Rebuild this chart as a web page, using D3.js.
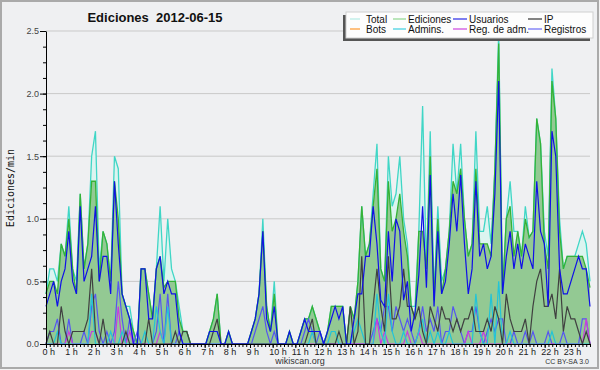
<!DOCTYPE html>
<html>
<head>
<meta charset="utf-8">
<script src="https://cdn.jsdelivr.net/npm/d3@7"></script>
<style>
body { margin: 0; background: #f2f2f2; }
svg { display: block; font-family: "Liberation Sans", Arial, sans-serif; }
</style>
</head>
<body>
<svg id="chart" width="600" height="370"></svg>
<script>
// edits per minute, one value every 10 minutes (144 points)
const total = [
  0.4,0.6,0.6,0.5,0.8,0.7, 1.1,0.6,0.5,1.2,0.6,0.8, 1.5,1.7,0.6,0.9,0.8,0.5, 1.5,1.4,0.4,0.3,0.3,0.1,
  0,0.6,0.6,0.4,0.2,0.6, 1.1,0.5,1.0,0.6,0.5,0.3, 0.1,0.1,0,0,0,0, 0,0.1,0.2,0.4,0,0,
  0.1,0,0,0,0,0, 0.1,0.2,0.4,1.0,0.3,0.1, 0.5,0,0,0,0.1,0, 0,0.1,0.2,0.2,0.3,0.2,
  0.1,0,0.1,0.3,0.3,0.3, 0.3,0,0.3,0.2,0.5,1.1, 0.7,0.8,1.2,1.6,0.6,0.5, 1.5,1.1,1.2,1.5,1.0,0.8,
  0.3,0.3,0.9,1.9,0.6,1.7, 0.4,1.1,0.5,0.6,0.9,1.6, 1.2,1.6,1.0,0.7,0.8,1.7, 0.9,0.9,1.1,0.8,1.4,2.5,
  0.4,1.0,1.3,0.9,0.9,0.7, 1.1,0.85,0.9,1.8,1.6,0.9, 0.7,2.2,1.8,1.0,0.6,0.7, 0.7,0.7,0.8,0.9,0.8,0.5
];
const ediciones = [
  0.4,0.5,0.5,0.4,0.8,0.7, 1.0,0.6,0.4,1.2,0.6,0.8, 1.3,1.3,0.5,0.9,0.8,0.5, 1.3,1.0,0.4,0.3,0.2,0.1,
  0,0.6,0.6,0.4,0.2,0.6, 0.7,0.45,0.5,0.5,0.5,0.2, 0.1,0.1,0,0,0,0, 0,0.1,0.2,0.4,0,0,
  0.1,0,0,0,0,0, 0.1,0.2,0.4,0.9,0.3,0.1, 0.4,0,0,0,0.1,0, 0,0.1,0.2,0.2,0.3,0.2,
  0.1,0,0.1,0.3,0.3,0.3, 0.3,0,0.3,0.2,0.5,1.1, 0.7,0.8,1.1,1.4,0.6,0.5, 1.3,0.9,1.0,1.2,0.9,0.7,
  0.3,0.2,0.9,0.9,0.6,1.5, 0.35,1.0,0.4,0.6,0.9,1.3, 1.2,1.4,1.0,0.7,0.8,1.4, 0.8,0.8,0.8,0.7,1.4,2.4,
  0.4,1.0,1.1,0.7,0.9,0.7, 1.0,0.85,0.9,1.8,1.6,0.8, 0.6,2.1,1.8,0.9,0.6,0.7, 0.7,0.7,0.7,0.7,0.6,0.45
];
const usuarios = [
  0.3,0.4,0.5,0.3,0.5,0.6, 0.9,0.5,0.4,1.1,0.5,0.6, 0.7,1.1,0.5,0.7,0.7,0.4, 1.3,0.8,0.4,0.3,0.2,0,
  0,0.6,0.6,0.2,0.2,0.6, 0.7,0.4,0.5,0.4,0.4,0.1, 0,0,0,0,0,0, 0,0.1,0.1,0.1,0,0,
  0.1,0,0,0,0,0, 0.1,0.2,0.4,0.9,0.2,0.1, 0.3,0,0,0,0.1,0, 0,0.1,0.2,0.1,0.1,0.1,
  0.1,0,0.1,0.2,0.3,0.2, 0.3,0,0,0.2,0.4,0.4, 0.7,0.7,1.1,0.8,0.35,0.3, 0.9,0.5,1.0,0.9,0.35,0.5,
  0.1,0.25,0.55,1.1,0.45,1.35, 0.3,0.9,0.4,0.5,0.8,1.2, 0.9,1.35,0.8,0.4,0.6,1.3, 0.7,0.8,0.6,0.7,1.2,2.1,
  0.4,0.7,0.9,0.6,0.8,0.6, 0.8,0.7,0.6,1.3,0.9,0.8, 0.3,1.7,1.5,0.6,0.4,0.4, 0.5,0.6,0.7,0.6,0.6,0.3
];
const ip = [
  0,0.1,0,0,0.3,0.1, 0,0.1,0.1,0.1,0.1,0.2, 0.6,0.1,0,0.2,0,0, 0,0,0,0.1,0,0,
  0,0,0,0.2,0,0, 0,0,0,0,0.1,0, 0.1,0.1,0,0,0,0, 0,0,0.1,0.2,0,0,
  0,0,0,0,0,0, 0,0,0,0,0,0, 0,0,0,0,0,0, 0,0,0,0.1,0.2,0,
  0,0,0,0,0,0.1, 0,0,0.3,0,0.1,0.7, 0,0,0.3,0.6,0.3,0.1, 0.7,0.2,0.2,0.3,0.6,0.3,
  0.3,0.2,0.3,0.1,0,0.3, 0.2,0.1,0.3,0.2,0.2,0.1, 0.2,0.1,0.2,0.2,0.3,0.1, 0.1,0.1,0.2,0.1,0.3,0.2,
  0,0.4,0.2,0.1,0.1,0.1, 0.2,0,0.3,0.5,0.6,0.3, 0.3,0.4,0.2,0.6,0.1,0.3, 0.2,0.2,0.1,0,0.1,0
];
const bots = d3.range(144).map(() => 0);
const admins = [
  0,0,0,0.1,0,0, 0,0,0,0,0,0, 0.4,0,0,0,0,0.1, 0,0,0.1,0,0,0,
  0,0,0.1,0,0,0.3, 0.1,0,0.3,0,0,0, 0,0,0,0,0,0, 0,0,0,0,0,0,
  0,0,0,0,0,0, 0,0,0,0,0,0, 0,0,0,0,0,0, 0,0,0,0,0.1,0,
  0,0,0,0.1,0.1,0, 0,0,0,0.1,0.2,0.1, 0,0,0,0.4,0.1,0, 0.4,0.1,0,0,0.1,0,
  0,0,0.1,0.2,0,0.1, 0,0.1,0,0,0.1,0, 0,0,0,0,0,0.4, 0.1,0,0,0.4,0,0.5,
  0,0,0.1,0,0,0, 0,0,0,0,0,0, 0,0.1,0,0,0,0, 0,0,0,0,0,0
];
const regAdm = [
  0,0,0,0,0,0, 0.1,0,0,0,0,0, 0.1,0.1,0,0,0,0, 0,0.3,0,0,0.1,0,
  0,0,0,0,0,0, 0.1,0,0,0,0,0, 0,0,0,0,0,0, 0,0,0,0,0,0,
  0,0,0,0,0,0, 0,0,0,0,0,0, 0,0,0,0,0,0, 0,0,0,0,0,0,
  0,0,0,0,0,0, 0,0,0,0,0,0, 0,0,0,0.2,0,0.1, 0,0,0,0,0,0.1,
  0,0,0.1,0,0,0, 0,0,0,0,0,0, 0,0,0,0.1,0,0, 0,0.1,0,0,0,0,
  0,0,0,0,0,0, 0,0,0,0,0,0, 0,0,0,0,0,0, 0,0,0,0,0.2,0
];
const registros = [
  0,0.1,0.1,0.2,0,0, 0.2,0,0,0,0.1,0, 0.3,0.4,0.1,0,0.1,0, 0.1,0.5,0.2,0,0.2,0,
  0.1,0,0,0,0,0.1, 0.4,0,0.4,0,0,0.1, 0,0,0,0,0,0, 0,0,0,0,0,0,
  0,0,0,0,0,0, 0,0.1,0.2,0.3,0.1,0, 0.1,0,0,0,0,0, 0,0,0.1,0.2,0.1,0,
  0.1,0,0,0,0,0, 0,0,0,0,0,0, 0,0,0.1,0.2,0.1,0.3, 0.3,0.1,0.3,0.2,0.1,0.2,
  0.1,0,0.1,0.3,0.1,0.2, 0.1,0.3,0,0.1,0.1,0.3, 0.2,0.1,0,0.1,0.1,0.3, 0.1,0,0.1,0.2,0.1,0.2,
  0.2,0,0,0.1,0,0, 0.1,0,0.1,0,0,0, 0.1,0,0,0,0.1,0, 0,0,0,0.2,0.2,0
];
const hourLabels = ["0 h","1 h","2 h","3 h","4 h","5 h","6 h","7 h","8 h","9 h","10 h","11 h",
  "12 h","13 h","14 h","15 h","16 h","17 h","18 h","19 h","20 h","21 h","22 h","23 h"];
const legendNames = ["Total","Ediciones","Usuarios","IP","Bots","Admins.","Reg. de adm.","Registros"];
const legendColors = ["#b4ece4","#8fd88f","#2a2ae8","#333333","#ff9a30","#3ccfe0","#cc44e0","#6a6af5"];

const plotLeft = 46, plotRight = 590, plotTop = 31, plotBottom = 344;

var svg = d3.select("#chart");

// frame
svg.append("rect")
    .attr("x", 1).attr("y", 1)
    .attr("width", 597).attr("height", 367)
    .attr("fill", "#eff0f2")
    .attr("stroke", "#aaaaaa")
    .attr("stroke-width", 2);

var x = d3.scaleLinear().domain([0, total.length - 1]).range([plotLeft, plotRight]);
var xh = d3.scaleLinear().domain([0, 24]).range([plotLeft, plotRight]);
var y = d3.scaleLinear().domain([0, 2.5]).range([plotBottom, plotTop]);

// grid
svg.append("g")
    .selectAll("line")
    .data([0.5, 1, 1.5, 2, 2.5])
    .enter()
    .append("line")
    .attr("x1", plotLeft).attr("x2", plotRight)
    .attr("y1", d => y(d)).attr("y2", d => y(d))
    .attr("stroke", "#c9c9c9")
    .attr("stroke-width", 1);

var area = d3.area()
    .x((d, i) => x(i))
    .y0(y(0))
    .y1(d => y(d));
var line = d3.line()
    .x((d, i) => x(i))
    .y(d => y(d));

svg.append("path").attr("d", area(total)).attr("fill", "#dcf4f0");
svg.append("path").attr("d", area(ediciones)).attr("fill", "#93c993");
svg.append("path").attr("d", line(total)).attr("fill", "none")
    .attr("stroke", "#40d6c6").attr("stroke-width", 1.3);
svg.append("path").attr("d", line(ediciones)).attr("fill", "none")
    .attr("stroke", "#36b236").attr("stroke-width", 1.3);

//smaller series drawn on top
var others = [
    [registros, "#5656f0"],
    [regAdm, "#c83ce0"],
    [admins, "#22c4d8"],
    [bots, "#ff9a30"],
    [ip, "#404040"],
    [usuarios, "#1010e8"]
];
for (var k = 0; k < others.length; k++) {
    var vals = others[k][0];
    if (d3.max(vals) == 0) continue;
    svg.append("path")
        .attr("d", line(vals))
        .attr("fill", "none")
        .attr("stroke", others[k][1])
        .attr("stroke-width", 1.2);
}

// y axis
var yMinor = svg.append("g")
    .attr("transform", "translate(" + plotLeft + ",0)")
    .call(d3.axisLeft(y).tickValues(d3.range(0, 2.501, 0.125)).tickSize(3).tickFormat(""));
yMinor.select(".domain").remove();
var yAxis = svg.append("g")
    .attr("transform", "translate(" + plotLeft + ",0)")
    .call(d3.axisLeft(y).tickValues([0, 0.5, 1, 1.5, 2, 2.5]).tickSize(6).tickSizeOuter(0)
        .tickFormat(d3.format(".1f")).tickPadding(1));
yAxis.selectAll("text").attr("font-size", 9).attr("fill", "#444");

// x axis
var xMinor = svg.append("g")
    .attr("transform", "translate(0," + plotBottom + ")")
    .call(d3.axisBottom(xh).tickValues(d3.range(0, 24.01, 1 / 6)).tickSize(3).tickFormat(""));
xMinor.select(".domain").remove();
var xAxis = svg.append("g")
    .attr("transform", "translate(0," + plotBottom + ")")
    .call(d3.axisBottom(xh).tickValues(d3.range(0, 24)).tickSize(4).tickSizeOuter(0)
        .tickFormat(d => hourLabels[d]).tickPadding(1));
xAxis.selectAll("text").attr("font-size", 9).attr("fill", "#222")
    .attr("text-anchor", "start").attr("dx", -4);
svg.selectAll(".tick line").attr("stroke", "#000");

// titles
svg.append("text")
    .attr("x", 155).attr("y", 22)
    .attr("text-anchor", "middle")
    .attr("font-size", 13)
    .attr("font-weight", "bold")
    .attr("fill", "#111")
    .attr("xml:space", "preserve")
    .text("Ediciones  2012-06-15");
svg.append("text")
    .attr("transform", "translate(14,188) rotate(-90)")
    .attr("text-anchor", "middle")
    .attr("font-family", "DejaVu Sans Mono")
    .attr("font-size", 10)
    .attr("fill", "#111")
    .text("Ediciones/min");
svg.append("text")
    .attr("x", 300).attr("y", 364)
    .attr("text-anchor", "middle")
    .attr("font-size", 9)
    .attr("fill", "#333")
    .text("wikiscan.org");
svg.append("text")
    .attr("x", 589).attr("y", 364)
    .attr("text-anchor", "end")
    .attr("font-size", 7)
    .attr("fill", "#333")
    .text("CC BY-SA 3.0");

// legend
var lg = svg.append("g");
lg.append("rect")
    .attr("x", 343).attr("y", 15)
    .attr("width", 247).attr("height", 26)
    .attr("fill", "#555");
lg.append("rect")
    .attr("x", 346).attr("y", 12)
    .attr("width", 247).attr("height", 26)
    .attr("fill", "#fdfdfd")
    .attr("stroke", "#cfcfcf");
const colX = [350, 393, 453, 528];
const colW = [10, 13, 14, 14];
legendNames.forEach((name, i) => {
    var c = i % 4, r = Math.floor(i / 4);
    var yy = 19 + r * 10;
    lg.append("line")
        .attr("x1", colX[c]).attr("x2", colX[c] + colW[c])
        .attr("y1", yy).attr("y2", yy)
        .attr("stroke", legendColors[i])
        .attr("stroke-width", 1.2);
    lg.append("text")
        .attr("x", colX[c] + colW[c] + (c == 0 ? 6 : 2))
        .attr("y", yy + 3.5)
        .attr("font-size", 10)
        .attr("fill", "#111")
        .text(name);
});
</script>
</body>
</html>
